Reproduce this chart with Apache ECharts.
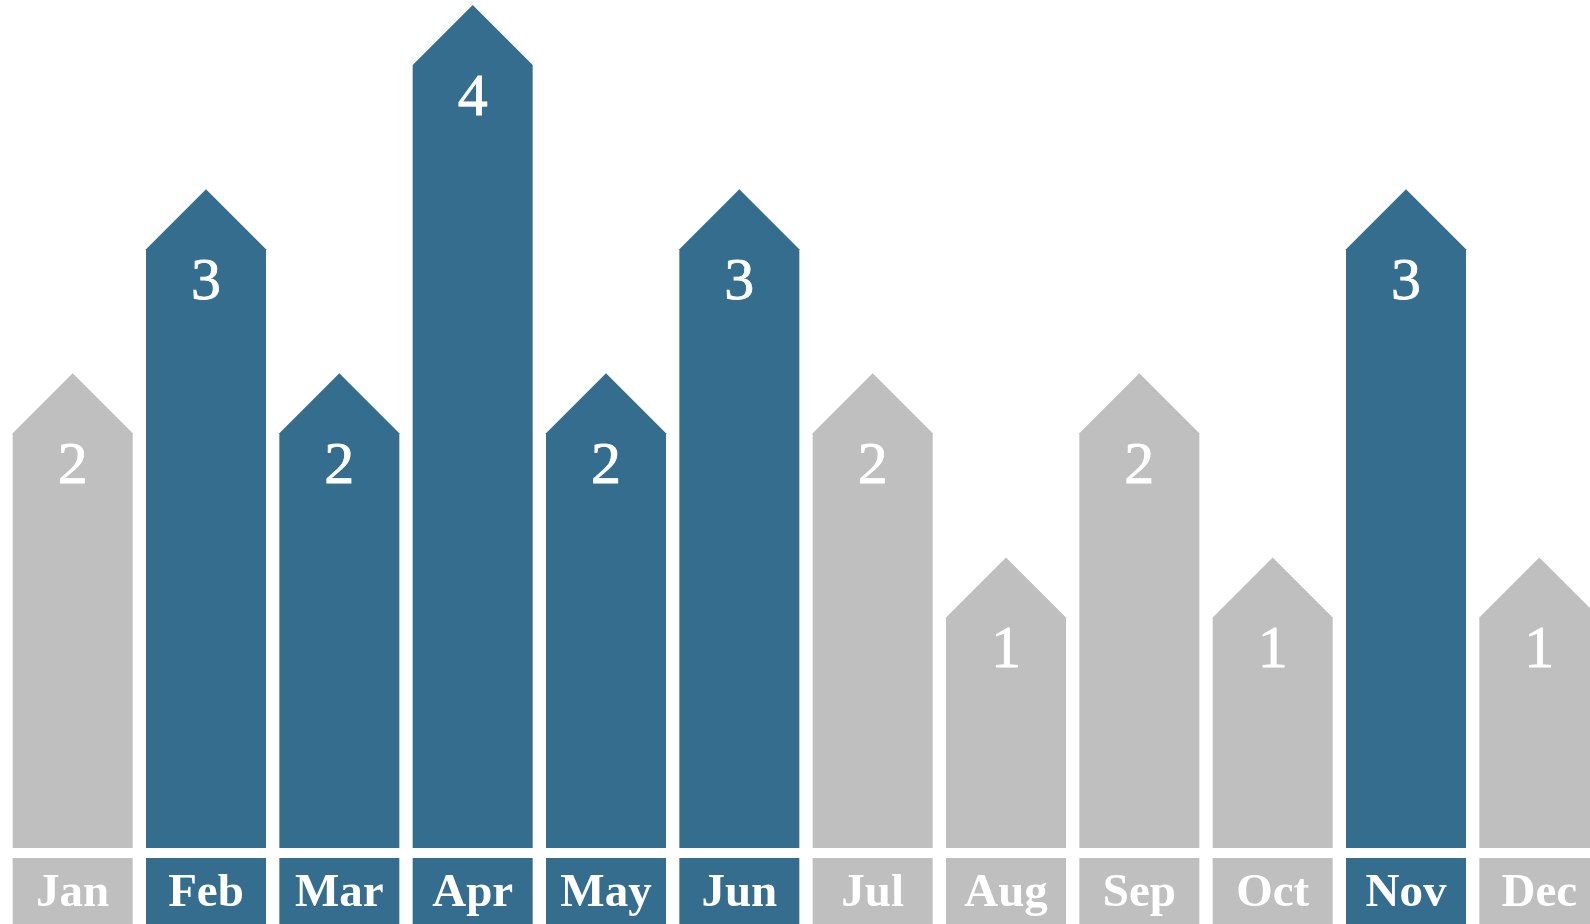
<!DOCTYPE html>
<html>
<head>
<meta charset="utf-8">
<script src="https://cdn.jsdelivr.net/npm/echarts@6/dist/echarts.min.js"></script>
<style>
  html, body { margin: 0; padding: 0; background: #fff; }
  #main { width: 1590px; height: 924px; }
</style>
</head>
<body>
<div id="main"></div>
<script>
// monthly counts, arrow-topped bars
var months = ['Jan', 'Feb', 'Mar', 'Apr', 'May', 'Jun', 'Jul', 'Aug', 'Sep', 'Oct', 'Nov', 'Dec'];
var values = [2, 3, 2, 4, 2, 3, 2, 1, 2, 1, 3, 1];
var highlighted = [0, 1, 1, 1, 1, 1, 0, 0, 0, 0, 1, 0];

var BLUE = '#356d8f';
var GREY = '#bfbfbf';
var FONT = '"Liberation Serif", "DejaVu Serif", serif';
var Y_MIN = -0.578;

var chart = echarts.init(document.getElementById('main'));

function renderItem(params, api) {
    var i = api.value(0);
    var v = api.value(1);
    var color = api.value(2) ? BLUE : GREY;
    var apex = api.coord([i, v]);
    var base = api.coord([i, Y_MIN]);
    var w = api.size([1, 0])[0] * 0.9;
    var half = w / 2;
    var cx = apex[0];
    var shoulder = apex[1] + half;
    return {
        type: 'group',
        children: [
            {
                type: 'polygon',
                shape: {
                    points: [
                        [cx - half, base[1]],
                        [cx - half, shoulder],
                        [cx, apex[1]],
                        [cx + half, shoulder],
                        [cx + half, base[1]]
                    ]
                },
                style: { fill: color }
            },
            {
                type: 'text',
                x: cx,
                y: apex[1] + 94,
                style: {
                    text: String(v),
                    fill: '#fff',
                    font: '500 60px ' + FONT,
                    stroke: '#fff',
                    lineWidth: 0.8,
                    align: 'center',
                    verticalAlign: 'middle'
                }
            },
            {
                type: 'rect',
                shape: { x: cx - half, y: base[1] + 10, width: w, height: 70 },
                style: { fill: color }
            },
            {
                type: 'text',
                x: cx,
                y: base[1] + 46,
                style: {
                    text: months[i],
                    fill: '#fff',
                    font: 'bold 47px ' + FONT,
                    align: 'center',
                    verticalAlign: 'middle'
                }
            }
        ]
    };
}

chart.setOption({
    animation: false,
    grid: { left: 6, right: -16, top: 5, bottom: 76, outerBoundsMode: 'none' },
    xAxis: {
        type: 'category',
        data: months,
        show: false
    },
    yAxis: {
        type: 'value',
        min: Y_MIN,
        max: 4,
        show: false
    },
    series: [{
        type: 'custom',
        clip: false,
        renderItem: renderItem,
        data: values.map(function (v, i) { return [i, v, highlighted[i]]; })
    }]
});
</script>
</body>
</html>
